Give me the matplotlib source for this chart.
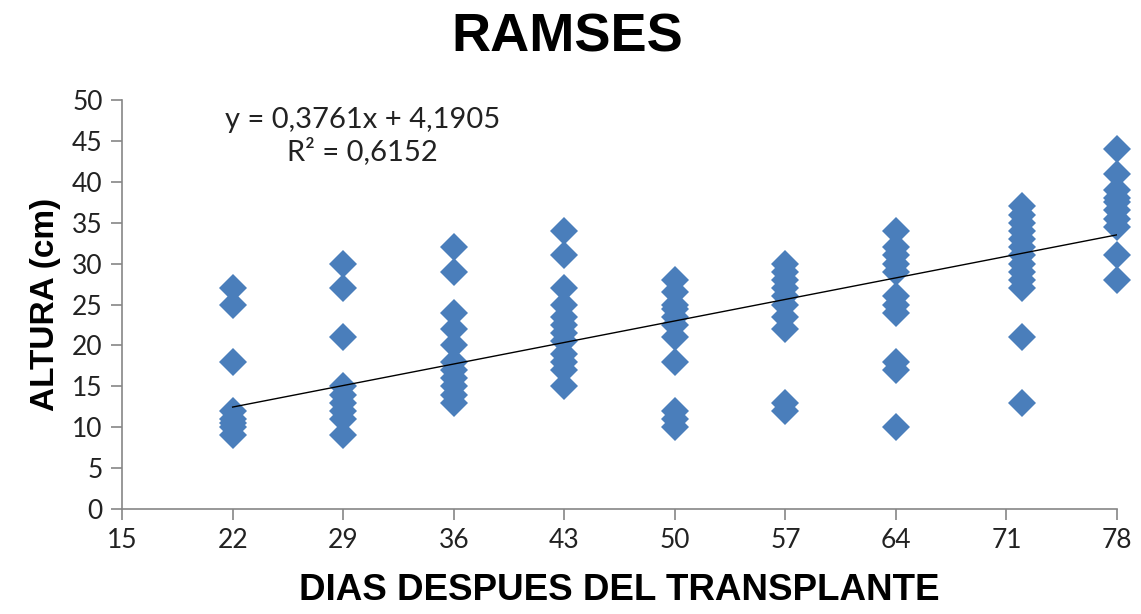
import matplotlib
matplotlib.use('Agg')
import matplotlib.pyplot as plt
import numpy as np

# days after transplant and measured heights (cm) per sampling day
dias = [22, 29, 36, 43, 50, 57, 64, 72, 78]
alturas = [
    [27, 25, 18, 12, 11, 10.5, 10, 9],
    [30, 27, 21, 15, 14, 13, 12, 11, 9],
    [32, 29, 24, 22, 20, 18, 17, 16, 15, 14, 13],
    [34, 31, 27, 25, 23.5, 22.5, 21.5, 20.5, 19, 18, 17, 15],
    [28, 26.5, 25, 24.5, 23.5, 22.5, 21, 18, 12, 11, 10],
    [30, 29, 28, 27, 26, 25, 23.5, 22, 13, 12],
    [34, 32, 31, 30, 29, 26, 25, 24, 18, 17, 10],
    [37, 36, 35, 34, 33, 32, 31, 30, 29, 28, 27, 21, 13],
    [44, 41, 39, 38, 37.5, 36.5, 35.5, 34.5, 31, 28],
]
xticks = [15, 22, 29, 36, 43, 50, 57, 64, 71, 78]
yticks = [0, 5, 10, 15, 20, 25, 30, 35, 40, 45, 50]
pendiente = 0.3761
intercepto = 4.1905
r2 = 0.6152

x = []
y = []
for d, vals in zip(dias, alturas):
    x += [d] * len(vals)
    y += vals
x = np.array(x)
y = np.array(y)

fig = plt.figure(figsize=(11.41, 6.14), dpi=100)
ax = fig.add_axes([0.107, 0.171, 0.872, 0.666])

ax.plot(x, y, 'D', color='#4A7EBB', markersize=14, markeredgewidth=0,
        clip_on=False, zorder=3)

xl = np.array([min(dias), max(dias)])
ax.plot(xl, pendiente * xl + intercepto, color='black', linewidth=1, zorder=4)

ax.set_xlim(15, 78)
ax.set_ylim(0, 50)
ax.set_xticks(xticks)
ax.set_yticks(yticks)
for s in ['top', 'right']:
    ax.spines[s].set_visible(False)
for s in ['left', 'bottom']:
    ax.spines[s].set_color('#868686')
    ax.spines[s].set_linewidth(1.2)
ax.tick_params(direction='out', length=8, width=1.2, color='#868686',
               labelsize=19, labelcolor='#222222', pad=6)
for lab in ax.get_xticklabels() + ax.get_yticklabels():
    lab.set_family('Lato')

eq = 'y = ' + f'{pendiente:.4f}'.replace('.', ',') + 'x + ' + f'{intercepto:.4f}'.replace('.', ',')
eq += '\nR² = ' + f'{r2:.4f}'.replace('.', ',')
ax.text(30.2, 45.6, eq, ha='center', va='center', fontsize=21,
        family='Lato', color='#222222', linespacing=1.2)

fig.suptitle('RAMSES', x=0.497, y=0.98, fontsize=39, fontweight='bold',
             family='Liberation Sans')
ax.set_xlabel('DIAS DESPUES DEL TRANSPLANTE', fontsize=26.5, fontweight='bold',
              family='Liberation Sans', labelpad=14)
ax.set_ylabel('ALTURA (cm)', fontsize=24, fontweight='bold',
              family='Liberation Sans', labelpad=8)

fig.savefig('out.png', dpi=100)
